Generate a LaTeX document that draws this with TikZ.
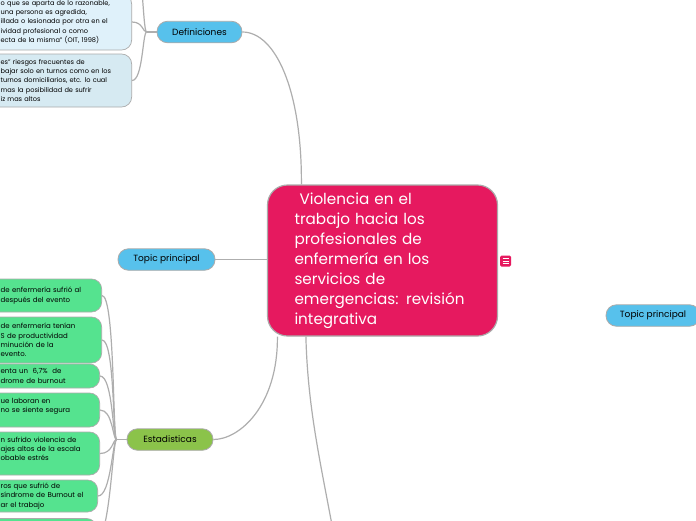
\documentclass[tikz,border=0pt]{standalone}
\usepackage{fontspec}
\setmainfont{Poppins}
\usetikzlibrary{calc}
\definecolor{pinkc}{HTML}{E6195F}
\definecolor{bluec}{HTML}{57C1EC}
\definecolor{greenc}{HTML}{8BC34A}
\definecolor{leafg}{HTML}{55E38F}
\definecolor{lbone}{HTML}{DFF1FA}
\definecolor{lbtwo}{HTML}{D6EAF2}
\definecolor{bord}{HTML}{ABABAB}
\definecolor{linec}{HTML}{AEAEAE}
\begin{document}
\begin{tikzpicture}[x=1pt,y=-1pt,
  conn/.style={draw=linec, line width=1.2pt},
  topicnode/.style={draw=bord, line width=0.8pt, fill=bluec, rounded corners=10.5pt, minimum height=21.5pt, inner sep=0pt, font=\fontsize{9}{11}\selectfont},
  leafnode/.style={draw=bord, line width=0.7pt, rounded corners=10pt, inner ysep=0pt, align=left, anchor=east},
  defleaf/.style={leafnode, text width=90pt, inner xsep=41pt, font=\fontsize{6.6}{9.3}\selectfont},
  statleaf/.style={leafnode, fill=leafg, text width=60pt, inner xsep=41pt, font=\fontsize{7}{9.3}\selectfont},
]
\useasboundingbox (0,0) rectangle (696,520);
\fill[white] (0,0) rectangle (696,520);
\clip (0,0) rectangle (696,520);

% central node
\node[draw=bord, line width=1.2pt, fill=pinkc, rounded corners=20pt, minimum width=230pt, minimum height=151pt, text width=176pt, inner xsep=27pt, inner ysep=0pt, align=left, text=white, font=\fontsize{15.2}{20}\selectfont] (c) at (382.5,260.5)
 {\mbox{\hspace*{5pt}Violencia en el}\\\mbox{trabajo hacia los}\\\mbox{profesionales de}\\\mbox{enfermería en los}\\\mbox{servicios de}\\\mbox{emergencias: revisión}\\\mbox{integrativa}};

% note icon
\node[fill=pinkc, rounded corners=1.5pt, minimum size=11pt, inner sep=0pt] (icon) at (505.5,261) {};
\draw[white, line width=0.9pt] (icon.center) ++(-3,-2.6) -- ++(6,0)
  (icon.center) ++(-3,0) -- ++(6,0)
  (icon.center) ++(-3,2.6) -- ++(6,0);

% main topics
\node[topicnode, minimum width=85pt] (def) at (199.5,32) {Definiciones};
\node[topicnode, minimum width=97pt] (tl) at (166.5,259.5) {Topic principal};
\node[topicnode, minimum width=94pt] (tr) at (653,315.5) {Topic principal};
\node[topicnode, fill=greenc, minimum width=86pt] (est) at (170,439.5) {Estadisticas};

% definition leaves
\node[defleaf, fill=lbone, minimum height=56pt] (d1) at (132,22)
 {\mbox{o que se aparta de lo razonable,}\\\mbox{una persona es agredida,}\\\mbox{illada o lesionada por otra en el}\\\mbox{ividad profesional o como}\\\mbox{ecta de la misma” (OIT, 1998)}};
\node[defleaf, fill=lbtwo, minimum height=53pt] (d2) at (132,80.5)
 {\mbox{es” riesgos frecuentes de}\\\mbox{bajar solo en turnos como en los}\\\mbox{turnos domiciliarios, etc. lo cual}\\\mbox{mas la posibilidad de sufrir}\\\mbox{iz mas altos}};
\coordinate (d0) at (132,-50);

% statistics leaves
\node[statleaf, minimum height=33pt] (s1) at (102,295.5)
 {\mbox{de enfermería sufrió al}\\\mbox{después del evento}};
\node[statleaf, minimum height=46pt] (s2) at (102,340)
 {\mbox{de enfermería tenían}\\\mbox{S de productividad}\\\mbox{minución de la}\\\mbox{evento.}};
\node[statleaf, inner xsep=39pt, minimum height=24pt] (s3) at (100,376)
 {\mbox{enta un~ 6,7\%~ de}\\\mbox{drome de burnout}};
\node[statleaf, inner xsep=39pt, minimum height=34pt] (s4) at (100,410)
 {\mbox{ue laboran en}\\\mbox{no se siente segura}\\\mbox{}};
\node[statleaf, inner xsep=39pt, minimum height=43pt] (s5) at (100,453.5)
 {\mbox{n sufrido violencia de}\\\mbox{ajes altos de la escala}\\\mbox{obable estrés}\\\mbox{}};
\node[statleaf, inner xsep=37pt, minimum height=32pt] (s6) at (98,496)
 {\mbox{ros que sufrió de}\\\mbox{síndrome de Burnout el}\\\mbox{ar el trabajo}};
\node[statleaf, inner xsep=37pt, minimum height=40pt] (s7) at (97,538.5) {};

% connectors from central node
\draw[conn] (def.east) .. controls +(33,0) and (302,90) .. ($(c.north west)+(34.5,0)$);
\draw[conn] (tl.east) -- (tl.east -| c.west);
\draw[conn] ($(c.south west)+(10.5,0)$) .. controls (278,405) and (240,439.5) .. (est.east);
\coordinate (belowc) at (340,570);
\draw[conn] ($(c.south west)+(39,0)$) .. controls (308,420) and (325,480) .. (belowc);

% definition connectors
\coordinate (dj) at ($(def.west)+(-10,0)$);
\draw[conn] (def.west) -- (dj);
\foreach \n in {d1,d2}
  \draw[conn] (dj) .. controls +(-4,0) and +(11,0) .. (\n.east);
\draw[conn] (dj) .. controls +(-4,0) and +(11,0) .. (d0);

% statistics connectors
\coordinate (ej) at ($(est.west)+(-10,0)$);
\draw[conn] (est.west) -- (ej);
\foreach \n in {s1,s2,s3,s4,s5,s6,s7}
  \draw[conn] (ej) .. controls +(-4,0) and +(13,0) .. (\n.east);
\end{tikzpicture}
\end{document}
